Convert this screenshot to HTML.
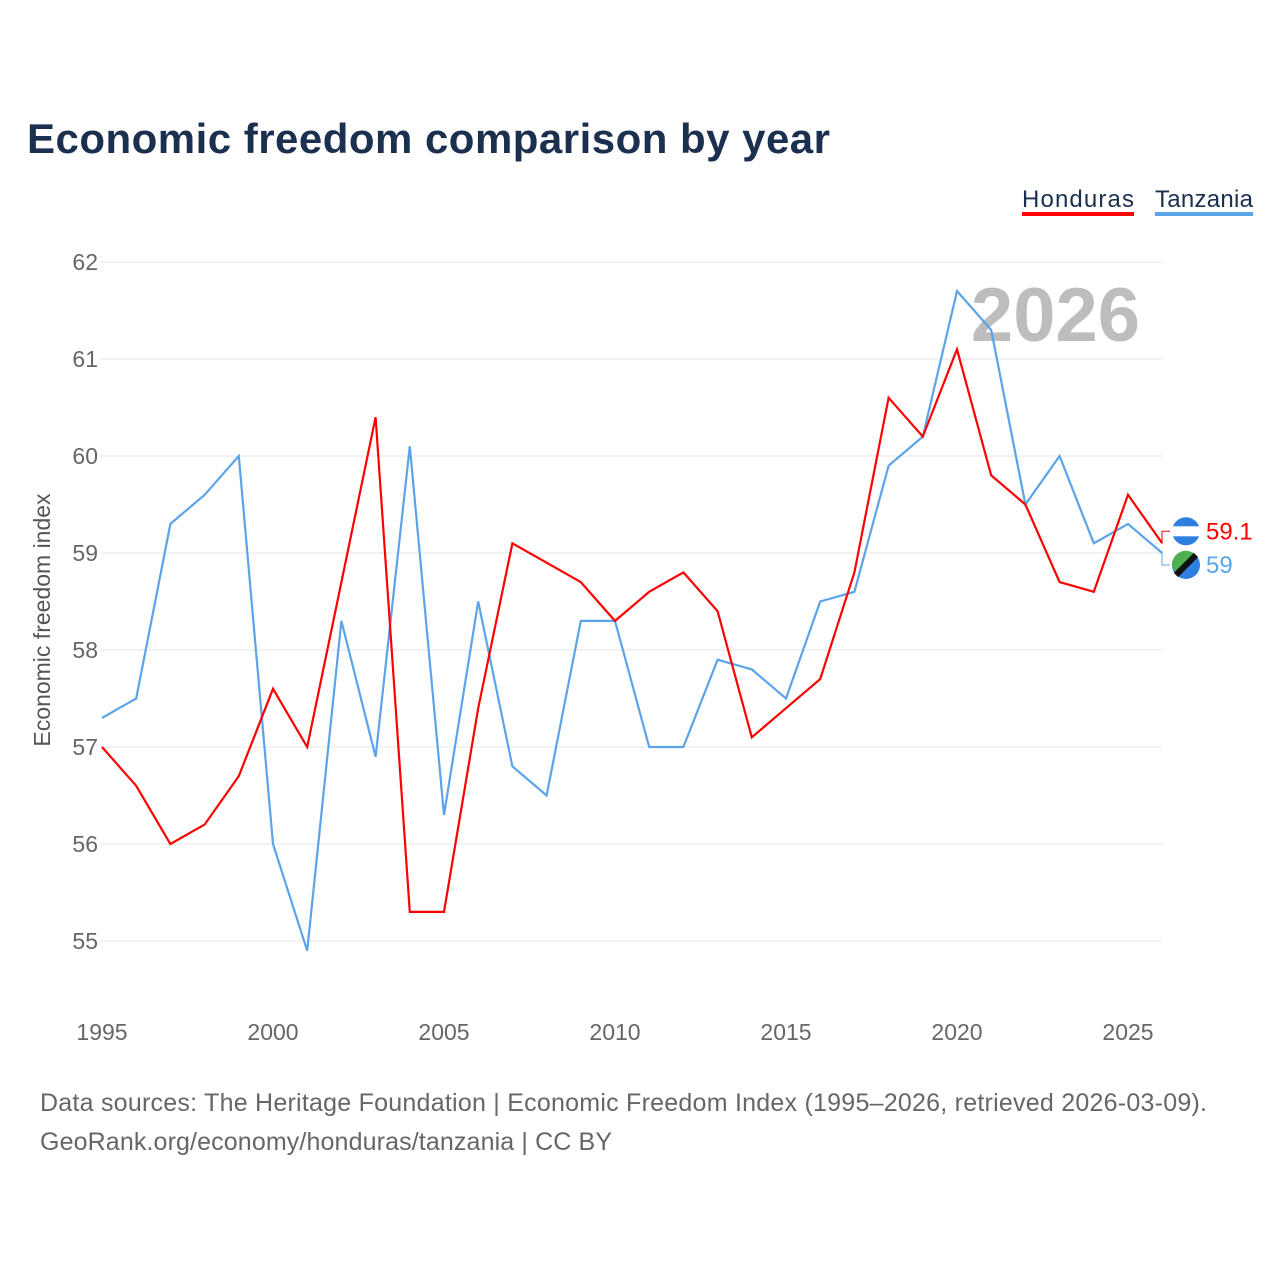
<!DOCTYPE html>
<html><head><meta charset="utf-8"><style>
body{margin:0;background:#fff;font-family:"Liberation Sans",sans-serif;}
svg text{font-family:"Liberation Sans",sans-serif;}
</style></head><body>
<svg id="c" width="1280" height="1280">
<text x="27" y="153" font-size="42" font-weight="bold" fill="#1b2f4f" textLength="803">Economic freedom comparison by year</text>
<g>
<text x="1022" y="207" font-size="24" fill="#1b2f4f" textLength="112">Honduras</text>
<rect x="1022" y="212" width="112" height="4" fill="#ff0000"/>
<text x="1155" y="207" font-size="24" fill="#1b2f4f" textLength="98">Tanzania</text>
<rect x="1155" y="212" width="98" height="4" fill="#5ba4ea"/>
</g>
<text x="1140" y="341" font-size="76" font-weight="bold" fill="#bdbdbd" text-anchor="end">2026</text>
<g id="grid"></g><g id="yt"></g><g id="xt"></g><g id="lines"></g>
<text transform="translate(50,620) rotate(-90)" font-size="23" fill="#555" text-anchor="middle">Economic freedom index</text>
<text x="40" y="1111" font-size="25" fill="#666" textLength="1167">Data sources: The Heritage Foundation | Economic Freedom Index (1995–2026, retrieved 2026-03-09).</text>
<text x="40" y="1150" font-size="25" fill="#666" textLength="572">GeoRank.org/economy/honduras/tanzania | CC BY</text>
</svg>
<script>
const years=[];for(let y=1995;y<=2026;y++)years.push(y);
const honduras=[57.0,56.6,56.0,56.2,56.7,57.6,57.0,58.7,60.4,55.3,55.3,57.4,59.1,58.9,58.7,58.3,58.6,58.8,58.4,57.1,57.4,57.7,58.8,60.6,60.2,61.1,59.8,59.5,58.7,58.6,59.6,59.1];
const tanzania=[57.3,57.5,59.3,59.6,60.0,56.0,54.9,58.3,56.9,60.1,56.3,58.5,56.8,56.5,58.3,58.3,57.0,57.0,57.9,57.8,57.5,58.5,58.6,59.9,60.2,61.7,61.3,59.5,60.0,59.1,59.3,59.0];
const yTicks=[55,56,57,58,59,60,61,62];
const xTicks=[1995,2000,2005,2010,2015,2020,2025];
const NS="http://www.w3.org/2000/svg";
const X=v=>102+(v-1995)*34.2, Y=v=>262+(62-v)*97;
function mk(t,a,p){const e=document.createElementNS(NS,t);for(const k in a)e.setAttribute(k,a[k]);document.getElementById(p).appendChild(e);return e;}
yTicks.forEach(v=>{
 const l=mk('line',{x1:100,x2:1162,y1:Y(v),y2:Y(v),stroke:'#e6e6e6'},'grid');
 
 
 const t=mk('text',{x:98,y:Y(v)+8,'font-size':23,fill:'#666','text-anchor':'end'},'yt');t.textContent=v;
 
 
});
xTicks.forEach(v=>{
 const t=mk('text',{x:X(v),y:1040,'font-size':23,fill:'#666','text-anchor':'middle'},'xt');t.textContent=v;
 
 
});
function series(d,c,n){
 const p=mk('polyline',{points:d.map((v,i)=>X(years[i])+','+Y(v)).join(' '),fill:'none',stroke:c,'stroke-width':2.2},'lines');
 
 
}
series(tanzania,'#5ba4ea','tanzania');
series(honduras,'#ff0000','honduras');
const lh=honduras[honduras.length-1], lt=tanzania[tanzania.length-1];
const hy=Y(lh)-12, ty=Y(lt)+12;
mk('path',{d:`M1162 ${Y(lh)} V${hy} H1170`,fill:'none',stroke:'#ff0000','stroke-width':1},'lines');
mk('path',{d:`M1162 ${Y(lt)} V${ty} H1170`,fill:'none',stroke:'#5ba4ea','stroke-width':1},'lines');
const g1=mk('circle',{cx:1186,cy:hy,r:14,fill:'#2f7fe0'},'lines');


mk('rect',{x:1172,y:hy-5,width:28,height:10,fill:'#fff'},'lines');
const g2=mk('circle',{cx:1186,cy:ty,r:14,fill:'#2f7fe0'},'lines');


mk('path',{d:`M1172 ${ty} A14 14 0 0 1 1196 ${ty-10} L1176 ${ty+10} Z`,fill:'#4caf50'},'lines');
mk('line',{x1:1176,y1:ty+10,x2:1196,y2:ty-10,stroke:'#111','stroke-width':6},'lines');
const t1=mk('text',{x:1206,y:hy+8,'font-size':24,fill:'#ff0000'},'lines');t1.textContent=lh;


const t2=mk('text',{x:1206,y:ty+8,'font-size':24,fill:'#5ba4ea'},'lines');t2.textContent=lt;


</script>
</body></html>
